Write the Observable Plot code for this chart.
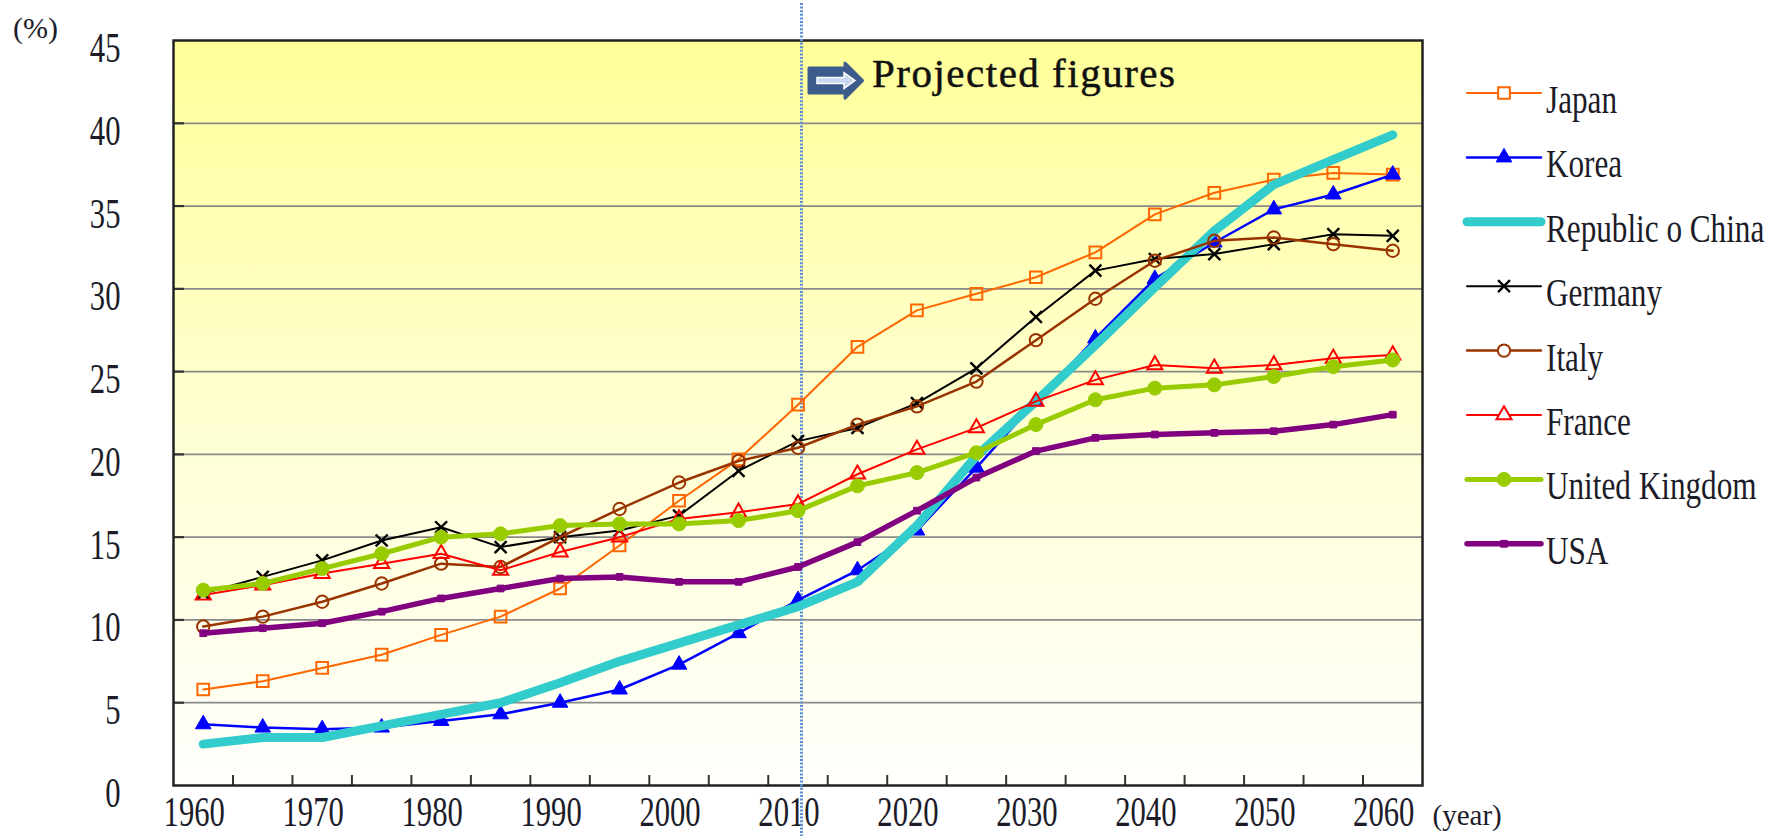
<!DOCTYPE html>
<html>
<head>
<meta charset="utf-8">
<script src="https://cdn.jsdelivr.net/npm/d3@7"></script>
<script src="https://cdn.jsdelivr.net/npm/@observablehq/plot@0.6"></script>
<style>
  html, body { margin: 0; padding: 0; background: #ffffff; }
  #wrap { position: relative; width: 1769px; height: 836px; overflow: hidden; }
  #wrap > svg { position: absolute; left: 0; top: 0; }
</style>
</head>
<body>
<div id="wrap"></div>
<script>
// ---------------- data ----------------
const years = [1960,1965,1970,1975,1980,1985,1990,1995,2000,2005,2010,2015,2020,2025,2030,2035,2040,2045,2050,2055,2060];
const japan   = [5.8,6.3,7.1,7.9,9.1,10.2,11.9,14.5,17.2,19.7,23.0,26.5,28.7,29.7,30.7,32.2,34.5,35.8,36.6,37.0,36.9];
const korea   = [3.7,3.5,3.4,3.5,3.9,4.3,5.0,5.8,7.3,9.2,11.2,13.0,15.4,19.2,23.2,27.0,30.6,32.8,34.8,35.7,36.9];
const roc     = [2.5,2.9,2.9,3.6,4.3,5.0,6.2,7.5,8.6,9.7,10.8,12.3,15.7,19.9,23.2,26.6,30.1,33.5,36.3,37.8,39.3];
const germany = [11.6,12.6,13.6,14.8,15.6,14.4,15.0,15.4,16.3,19.0,20.8,21.6,23.1,25.2,28.3,31.1,31.8,32.1,32.7,33.3,33.2];
const italy   = [9.6,10.2,11.1,12.2,13.4,13.2,15.0,16.7,18.3,19.6,20.4,21.8,22.9,24.4,26.9,29.4,31.7,32.9,33.1,32.7,32.3];
const france  = [11.5,12.1,12.8,13.4,14.0,13.0,14.1,15.0,16.1,16.5,17.0,18.8,20.3,21.6,23.2,24.5,25.4,25.2,25.4,25.8,26.0];
const uk      = [11.8,12.2,13.1,14.0,15.0,15.2,15.7,15.8,15.8,16.0,16.6,18.1,18.9,20.1,21.8,23.3,24.0,24.2,24.7,25.3,25.7];
const usa     = [9.2,9.5,9.8,10.5,11.3,11.9,12.5,12.6,12.3,12.3,13.2,14.7,16.6,18.6,20.2,21.0,21.2,21.3,21.4,21.8,22.4];

const seriesNames  = ["Japan","Korea","Republic o China","Germany","Italy","France","United Kingdom","USA"];
const seriesValues = [japan, korea, roc, germany, italy, france, uk, usa];

const yTicks = [0,5,10,15,20,25,30,35,40,45];
const xTickLabels = [1960,1970,1980,1990,2000,2010,2020,2030,2040,2050,2060];
const yLabel = "(%)";
const xLabel = "(year)";
const projectionStart = 2010;
const annotationText = "Projected figures";
const annotationY = 43;

// ---------------- styles ----------------
const seriesStyle = {
  "Japan":            {color:"#ff6600", width:2,   symbol:"square",   r:6.6, filled:false, mw:2},
  "Korea":            {color:"#0000ff", width:2.5, symbol:"triangle", r:5.8, filled:true,  mw:1},
  "Republic o China": {color:"#33cccc", width:9,   symbol:null},
  "Germany":          {color:"#000000", width:2,   symbol:"times",    r:5.5, filled:false, mw:2.4},
  "Italy":            {color:"#993300", width:2.5, symbol:"circle",   r:6.2, filled:false, mw:2},
  "France":           {color:"#ff0000", width:2,   symbol:"triangle", r:5.6, filled:false, mw:2},
  "United Kingdom":   {color:"#99cc00", width:5,   symbol:"circle",   r:7,   filled:true,  mw:1},
  "USA":              {color:"#800080", width:5.5, symbol:"square",   r:3.8, filled:true,  mw:1}
};

const rows = [];
seriesNames.forEach((name, i) => {
  years.forEach((yr, j) => rows.push({series: name, year: yr, value: seriesValues[i][j]}));
});
const boundaries = years.slice(1).map(y => y - 2.5);

const W = 1769, H = 836;
const mL = 173, mR = 347, mT = 40, mB = 51;
const frameW = W - mL - mR, frameH = H - mT - mB;
const serif = "'Liberation Serif', 'Times New Roman', serif";
const textColor = "#1c1c28";

// arrow icon mark
function arrowIcon(index, scales) {
  const x0 = scales.x(projectionStart) + 11.5;
  const yc = scales.y(annotationY) + 7.5;
  const g = d3.create("svg:g");
  g.append("path")
    .attr("d", `M${x0},${yc-12.5} h36 v-5 l17.5,17.5 l-17.5,17.5 v-5 h-36 z`)
    .attr("fill", "#3d5c8c").attr("stroke", "#3d5c8c")
    .attr("stroke-width", 3).attr("stroke-linejoin", "round");
  g.append("path")
    .attr("d", `M${x0+8},${yc-3} h27 v-5 l11,8 l-11,8 v-5 h-27 z`)
    .attr("fill", "#c9d8ef").attr("stroke", "#ffffff").attr("stroke-width", 1.5);
  return g.node();
}

const marks = [
  Plot.frame({fill: "url(#bgGrad)"}),
  Plot.ruleY(yTicks.filter(d => d > 0 && d < 45), {stroke: "#8a8a8a", strokeWidth: 1.8}),
  Plot.tickY(yTicks.filter(d => d > 0 && d < 45), {y: d => d, stroke: "#333", strokeWidth: 2.2, insetRight: frameW - 11}),
  Plot.tickX(boundaries, {x: d => d, stroke: "#333", strokeWidth: 2, insetTop: frameH - 10}),
  Plot.frame({stroke: "#222", strokeWidth: 2.5}),
  Plot.axisY(yTicks, {anchor: "left", label: null, tickSize: 0, tickPadding: 53, dy: 8, fontSize: 42, fontFamily: serif, fill: textColor, tickFormat: d => String(d)}),
  Plot.axisX(xTickLabels, {anchor: "bottom", label: null, tickSize: 0, tickPadding: 11, dx: -9, fontSize: 42, fontFamily: serif, fill: textColor, tickFormat: d => String(d)}),
  Plot.text([yLabel], {text: d => d, frameAnchor: "top-left", lineAnchor: "middle", dx: -138, dy: -12, fontSize: 30, fontFamily: serif, fill: textColor, textAnchor: "middle"}),
  Plot.text([xLabel], {text: d => d, frameAnchor: "bottom-right", lineAnchor: "middle", dx: 10, dy: 30, fontSize: 29, fontFamily: serif, fill: textColor, textAnchor: "start"}),
  Plot.ruleX([projectionStart], {dx: 3.5, stroke: "#5a8ed8", strokeWidth: 3, strokeDasharray: "2,1.6", insetTop: -37, insetBottom: -51}),
  arrowIcon,
  Plot.text([annotationText], {x: () => projectionStart, y: () => annotationY, text: d => d, dx: 74, textAnchor: "start", fontSize: 41, fontFamily: serif, fill: "#111", stroke: "#111", strokeWidth: 0.5})
];

seriesNames.forEach(name => {
  const s = seriesStyle[name];
  const data = rows.filter(r => r.series === name);
  marks.push(Plot.line(data, {x: "year", y: "value", stroke: s.color, strokeWidth: s.width, strokeLinejoin: "round", strokeLinecap: "round"}));
  if (s.symbol) {
    marks.push(Plot.dot(data, {
      x: "year", y: "value", symbol: () => s.symbol, r: s.r,
      fill: s.filled ? s.color : "none",
      stroke: s.color, strokeWidth: s.mw
    }));
  }
});

const chart = Plot.plot({
  width: W, height: H,
  marginLeft: mL, marginRight: mR, marginTop: mT, marginBottom: mB,
  x: {type: "linear", domain: [1957.5, 2062.5], axis: null},
  y: {type: "linear", domain: [0, 45], axis: null},
  symbol: {type: "identity"},
  style: {background: "#ffffff", fontFamily: serif, color: textColor, overflow: "visible"},
  marks
});

// gradient background for the plot area
const defs = d3.select(chart).insert("defs", ":first-child");
const grad = defs.append("linearGradient").attr("id", "bgGrad")
  .attr("x1", 0).attr("y1", 0).attr("x2", 0).attr("y2", 1);
grad.append("stop").attr("offset", "0%").attr("stop-color", "#ffff99");
grad.append("stop").attr("offset", "55%").attr("stop-color", "#ffffd6");
grad.append("stop").attr("offset", "100%").attr("stop-color", "#fffffd");

// condense numeric tick labels (narrow serif look)
chart.querySelectorAll("text").forEach(t => {
  const s = t.textContent.trim();
  if (/^\d+$/.test(s)) {
    const tr = t.getAttribute("transform") || "";
    t.setAttribute("transform", `${tr} scale(0.73,1)`);
  }
  if (s === annotationText) t.style.letterSpacing = "1.5px";
});

document.getElementById("wrap").appendChild(chart);

// ---------------- legend ----------------
const legend = d3.create("svg").attr("width", W).attr("height", H)
  .style("pointer-events", "none");
const symMap = {square: d3.symbolSquare, triangle: d3.symbolTriangle, circle: d3.symbolCircle, times: d3.symbolTimes};
seriesNames.forEach((name, i) => {
  const s = seriesStyle[name];
  const ly = 93 + i * 64.4;
  const g = legend.append("g");
  g.append("line").attr("x1", 1467).attr("x2", 1541).attr("y1", ly).attr("y2", ly)
    .attr("stroke", s.color).attr("stroke-width", s.width).attr("stroke-linecap", "round");
  if (s.symbol) {
    g.append("path")
      .attr("d", d3.symbol(symMap[s.symbol], Math.PI * s.r * s.r)())
      .attr("transform", `translate(1504,${ly})`)
      .attr("fill", s.filled ? s.color : (s.symbol === "times" ? "none" : "#ffffff"))
      .attr("stroke", s.color).attr("stroke-width", s.mw);
  }
  g.append("text").text(name)
    .attr("transform", `translate(1546,${ly + 20}) scale(0.78,1)`)
    .attr("font-family", serif).attr("font-size", 40).attr("fill", textColor);
});
document.getElementById("wrap").appendChild(legend.node());
</script>
</body>
</html>
